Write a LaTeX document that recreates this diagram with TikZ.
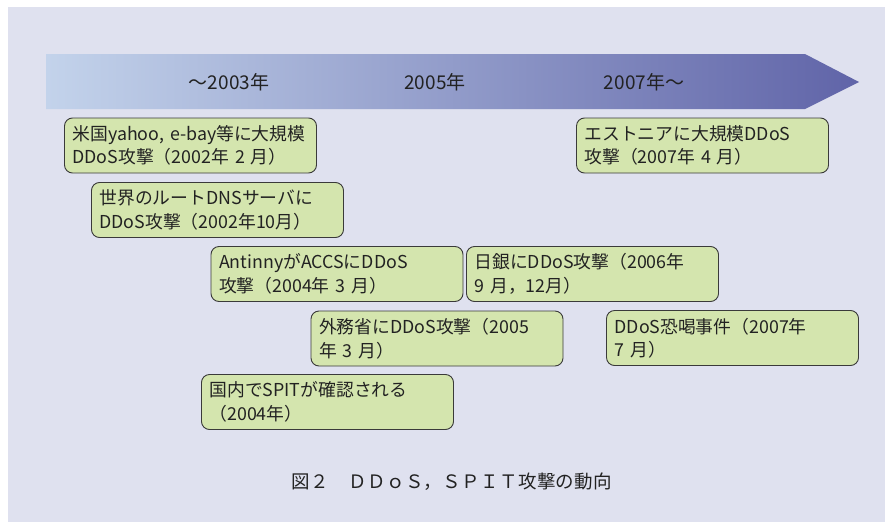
\documentclass[tikz,border=0pt]{standalone}
\usepackage{fontspec}
\setmainfont{Noto Sans CJK JP}
\definecolor{bgc}{HTML}{DFE1EF}
\definecolor{arrL}{HTML}{C3D3EB}
\definecolor{arrR}{HTML}{6064A8}
\definecolor{boxfill}{HTML}{D4E5AE}
\definecolor{boxline}{HTML}{3A3A3A}
\definecolor{txt}{HTML}{222222}
\tikzset{
  event/.style={draw=boxline, line width=0.9pt, fill=boxfill, rounded corners=8pt,
    minimum width=252pt, minimum height=55pt, text width=236pt, inner xsep=8pt,
    align=left, text=txt, font=\fontsize{17.8}{23.5}\selectfont},
  yearlbl/.style={text=txt, font=\fontsize{19}{22}\selectfont},
}
\begin{document}
\begin{tikzpicture}[x=1pt,y=-1pt]
\useasboundingbox (0,0) rectangle (885,522);
\fill[bgc] (8,7) rectangle (885,522);
\shade[left color=arrL, right color=arrR] (46,54) -- (805,54) -- (859,82) -- (805,109) -- (46,109) -- cycle;
\node[yearlbl] (y1) at (229,82) {～2003年};
\node[yearlbl] (y2) at (435,82) {2005年};
\node[yearlbl] (y3) at (644,82) {2007年～};
\node[event] (e1) at (190.5,145.5) {米国yahoo, e-bay等に大規模\\DDoS攻撃（2002年 2 月）};
\node[event] (e2) at (217.5,210) {世界のルートDNSサーバに\\DDoS攻撃（2002年10月）};
\node[event] (e3) at (337,274) {AntinnyがACCSにDDoS\\攻撃（2004年 3 月）};
\node[event] (e4) at (592.5,274) {日銀にDDoS攻撃（2006年\\ 9 月，12月）};
\node[event] (e5) at (437,338.5) {外務省にDDoS攻撃（2005\\年 3 月）};
\node[event] (e6) at (327.5,402) {国内でSPITが確認される\\（2004年）};
\node[event] (e7) at (732.5,338) {DDoS恐喝事件（2007年\\7 月）};
\node[event] (e8) at (702.5,145.5) {エストニアに大規模DDoS\\攻撃（2007年 4 月）};
\node[text=txt, font=\fontsize{18.5}{20}\selectfont\addfontfeature{LetterSpace=2}] (cap) at (452,482) {図２　ＤＤｏＳ，ＳＰＩＴ攻撃の動向};
\end{tikzpicture}
\end{document}
